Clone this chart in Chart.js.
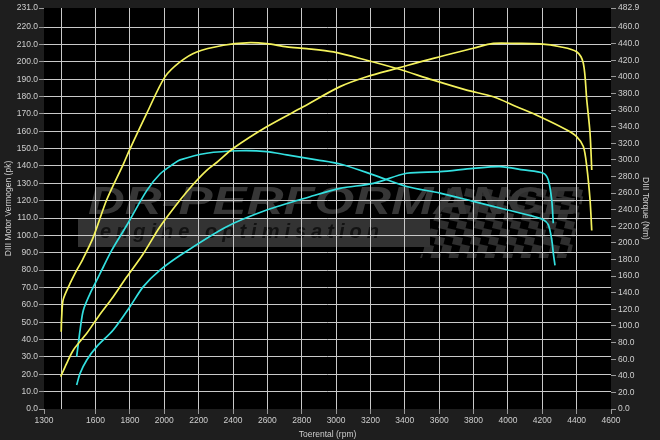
<!DOCTYPE html>
<html>
<head>
<meta charset="utf-8">
<script src="https://cdn.jsdelivr.net/npm/chart.js@4/dist/chart.umd.min.js"></script>
<style>
  html, body { margin: 0; padding: 0; background: #1e1e1e; }
</style>
</head>
<body>
<canvas id="dynoChart" width="660" height="440"></canvas>
<script>
// rpm / value pairs
const yellowPowerRpm = [1397,1432,1471,1549,1616,1703,1781,1875,1975,2092,2169,2247,2305,2402,2596,2809,3023,3178,3353,3566,3799,3915,4051,4187,4303,4400,4439,4459,4478,4488];
const yellowPowerPk  = [18.6,26.3,34.0,43.6,53.2,64.7,76.0,89.0,105.0,120.4,129.5,137.5,142.0,150.2,162.6,174.1,185.7,191.4,196.2,202.0,207.8,210.6,210.6,210.3,208.7,205.8,199.1,178.0,158.8,137.7];

const yellowTorqueRpm = [1400,1403,1412,1451,1490,1525,1587,1665,1762,1800,1898,2004,2092,2189,2344,2480,2596,2713,2829,2984,3178,3353,3566,3760,3915,4051,4187,4343,4400,4439,4459,4478,4488];
const yellowTorqueNm  = [93,111,132,151,167,180,207,252,295,313,356,400,418,430,438,441,440,436,434,430,420,410,396,384,376,364,352,336,328,316,292,252,215];

const cyanTorqueRpm = [1490,1500,1510,1529,1568,1597,1645,1694,1781,1898,1975,2053,2092,2247,2441,2596,2713,2887,3023,3217,3411,3605,3799,3993,4148,4206,4235,4255,4264,4274];
const cyanTorqueNm  = [63,79,95,119,139,151,171,191,221,263,283,295,300,308,311,310,306,300,295,282,268,260,250,240,232,228,222,204,188,173];

const cyanPowerRpm = [1490,1510,1549,1607,1703,1800,1878,1975,2111,2363,2596,2848,3023,3217,3411,3605,3799,3954,4090,4206,4235,4255,4264];
const cyanPowerPk  = [13.8,20.5,28.2,35.9,45.5,58.9,70.5,80.0,89.7,105.0,114.6,122.3,127.1,130.0,135.8,136.7,138.6,139.6,137.7,135.8,131.9,120.4,107.0];

// axis ticks
const rpmTicks = [1300,1400,1600,1800,2000,2200,2400,2600,2800,3000,3200,3400,3600,3800,4000,4200,4400,4600];
const pkTicks = [0,10,20,30,40,50,60,70,80,90,100,110,120,130,140,150,160,170,180,190,200,210,220,231];
const nmTicks = [0,20,40,60,80,100,120,140,160,180,200,220,240,260,280,300,320,340,360,380,400,420,440,460,482.9];

const YELLOW = "#f4f25c";
const CYAN = "#33e0e0";
const GRID = "#c9c9c9";
const LABEL = "#cfcfcf";
const font = { family: "'Liberation Sans', Arial, sans-serif", size: 8.5 };

function pairs(xs, ys) {
  return xs.map((x, i) => ({ x: x, y: ys[i] }));
}

function line(label, xs, ys, color, axis) {
  return {
    label: label,
    data: pairs(xs, ys),
    borderColor: color,
    borderWidth: 1.7,
    pointRadius: 0,
    tension: 0.3,
    yAxisID: axis
  };
}

// black plot area + faint sponsor watermark behind the grid
const backdrop = {
  id: "backdrop",
  beforeDraw(chart) {
    const { ctx, chartArea: a } = chart;
    ctx.save();
    ctx.fillStyle = "#000";
    ctx.fillRect(a.left, a.top, a.right - a.left, a.bottom - a.top);

    // checkered flag
    ctx.save();
    ctx.beginPath();
    ctx.moveTo(445, 188); ctx.lineTo(585, 188); ctx.lineTo(570, 258); ctx.lineTo(420, 258);
    ctx.closePath();
    ctx.clip();
    ctx.fillStyle = "#2e2e2e";
    for (let r = 0; r < 9; r++) {
      for (let c = 0; c < 20; c++) {
        if ((r + c) % 2 === 0) {
          const x = 420 + c * 9 - r * 2 + 10;
          const y = 188 + r * 8;
          ctx.beginPath();
          ctx.moveTo(x, y); ctx.lineTo(x + 9, y + 2); ctx.lineTo(x + 7, y + 10); ctx.lineTo(x - 2, y + 8);
          ctx.closePath();
          ctx.fill();
        }
      }
    }
    ctx.restore();

    // band
    ctx.fillStyle = "#333";
    ctx.fillRect(78, 218, 352, 29);
    ctx.font = "italic bold 20px 'Liberation Sans', Arial, sans-serif";
    ctx.fillStyle = "#121212";
    ctx.textBaseline = "middle";
    ctx.letterSpacing = "5px";
    ctx.fillText("engine optimisation", 100, 232);
    ctx.letterSpacing = "0px";

    // big lettering
    ctx.font = "italic 900 38px 'Liberation Sans', Arial, sans-serif";
    const txt = "DR-PERFORMANCE";
    const w = ctx.measureText(txt).width;
    ctx.translate(88, 214);
    ctx.scale(490 / w, 1);
    ctx.fillStyle = "#363636";
    ctx.textBaseline = "alphabetic";
    ctx.fillText(txt, 0, 0);
    ctx.restore();
  }
};

new Chart(document.getElementById("dynoChart").getContext("2d"), {
  type: "line",
  data: {
    datasets: [
      line("Vermogen geel", yellowPowerRpm, yellowPowerPk, YELLOW, "y"),
      line("Koppel geel", yellowTorqueRpm, yellowTorqueNm, YELLOW, "y1"),
      line("Koppel cyaan", cyanTorqueRpm, cyanTorqueNm, CYAN, "y1"),
      line("Vermogen cyaan", cyanPowerRpm, cyanPowerPk, CYAN, "y")
    ]
  },
  options: {
    responsive: false,
    animation: false,
    layout: { padding: { top: 8, left: 0, right: 0, bottom: 0 } },
    plugins: { legend: { display: false }, tooltip: { enabled: false } },
    scales: {
      x: {
        type: "linear",
        min: 1300,
        max: 4600,
        afterBuildTicks: s => { s.ticks = rpmTicks.map(v => ({ value: v })); },
        afterFit: s => { s.height = 31; },
        border: { display: false },
        grid: {
          color: c => (c.tick && (c.tick.value === 1300 || c.tick.value === 4600)) ? "transparent" : GRID,
          tickColor: c => (c.tick && c.tick.value === 1400) ? "transparent" : "#9a9a9a",
          tickLength: 5,
          lineWidth: 1
        },
        ticks: {
          color: LABEL,
          font: font,
          padding: 2,
          maxRotation: 0,
          autoSkip: false,
          callback: v => v === 1400 ? "" : String(v)
        },
        title: { display: true, text: "Toerental (rpm)", color: LABEL, font: font, padding: { top: 0, bottom: 0 } }
      },
      y: {
        position: "left",
        min: 0,
        max: 231,
        afterBuildTicks: s => { s.ticks = pkTicks.map(v => ({ value: v })); },
        afterFit: s => { s.width = 44; },
        border: { display: false },
        grid: {
          color: c => (c.tick && (c.tick.value === 0 || c.tick.value === 231)) ? "transparent" : GRID,
          tickColor: "#9a9a9a",
          tickLength: 5,
          lineWidth: 1
        },
        ticks: { color: LABEL, font: font, padding: 1, autoSkip: false, callback: v => v.toFixed(1) },
        title: { display: true, text: "DIII Motor Vermogen (pk)", color: LABEL, font: font, padding: { top: 4, bottom: 0 } }
      },
      y1: {
        position: "right",
        min: 0,
        max: 482.9,
        afterBuildTicks: s => { s.ticks = nmTicks.map(v => ({ value: v })); },
        afterFit: s => { s.width = 49; },
        border: { display: false },
        grid: { drawOnChartArea: false, tickColor: "#9a9a9a", tickLength: 5 },
        ticks: { color: LABEL, font: font, padding: 2, autoSkip: false, callback: v => v.toFixed(1) },
        title: { display: true, text: "DIII Torque (Nm)", color: LABEL, font: font, padding: { top: 10, bottom: 0 } }
      }
    }
  },
  plugins: [backdrop]
});
</script>
</body>
</html>
